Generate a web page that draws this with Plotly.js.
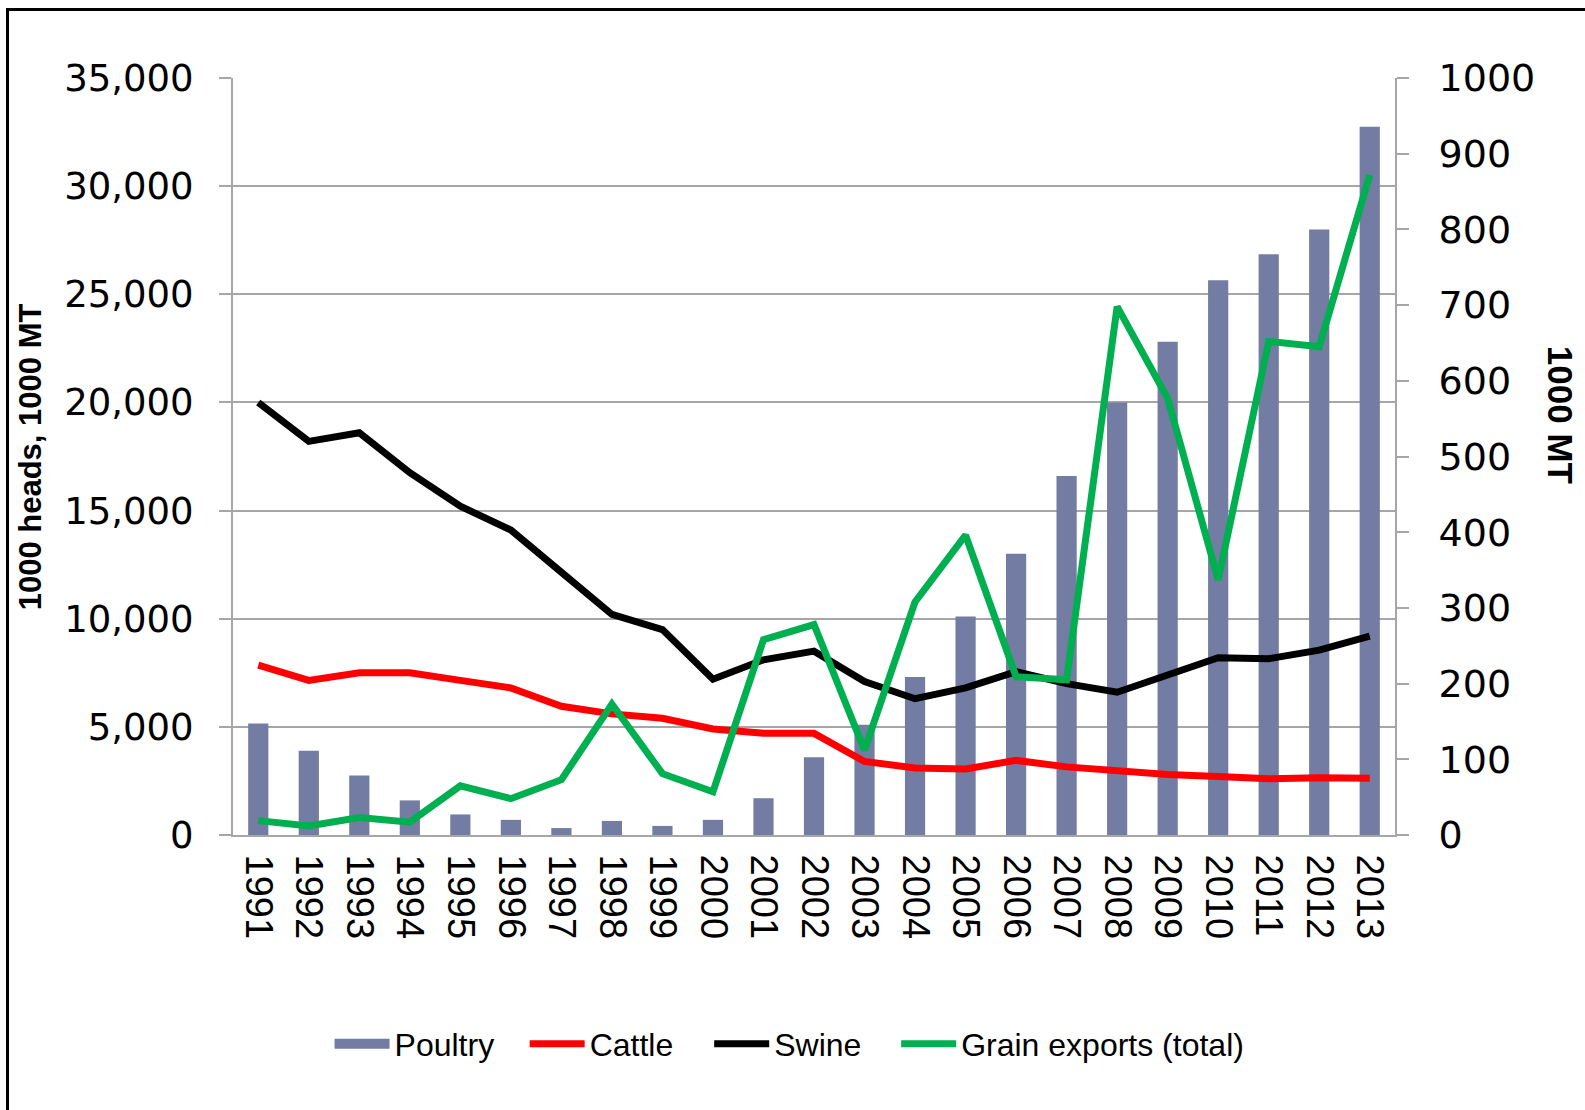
<!DOCTYPE html>
<html>
<head>
<meta charset="utf-8">
<script src="https://cdn.plot.ly/plotly-3.0.1.min.js"></script>
<style>
  html, body { margin: 0; padding: 0; background: #ffffff; }
  #wrap { position: relative; width: 1585px; height: 1110px; overflow: hidden; }
  #chart { position: absolute; left: 0; top: 0; width: 1585px; height: 1110px; }
  #frame { position: absolute; left: 6px; top: 8px; width: 1700px; height: 1200px;
           border-left: 3px solid #000; border-top: 3px solid #000; pointer-events: none; }
</style>
</head>
<body>
<div id="wrap">
  <div id="chart"></div>
  <div id="frame"></div>
</div>
<script>
const years = ["1991","1992","1993","1994","1995","1996","1997","1998","1999","2000","2001","2002",
               "2003","2004","2005","2006","2007","2008","2009","2010","2011","2012","2013"];
const poultry = [5150, 3900, 2750, 1600, 950, 700, 320, 650, 420, 700, 1700, 3600,
                 5100, 7300, 10100, 13000, 16600, 20000, 22800, 25650, 26850, 28000, 32750];
const cattle = [7850, 7150, 7500, 7500, 7150, 6800, 5950, 5600, 5400, 4900, 4700, 4700,
                3400, 3100, 3050, 3450, 3150, 2950, 2800, 2700, 2600, 2650, 2620];
const swine = [20000, 18200, 18600, 16750, 15200, 14100, 12150, 10200, 9500, 7200, 8100, 8500,
               7100, 6300, 6800, 7550, 7000, 6600, 7400, 8200, 8150, 8550, 9200];
const grainExports = [19, 12, 23, 17, 65, 48, 73, 173, 81, 57, 258, 278,
                      112, 308, 396, 209, 205, 698, 577, 337, 652, 645, 872];

const seriesNames = ["Poultry", "Cattle", "Swine", "Grain exports (total)"];
const leftTitle = "1000 heads, 1000 MT";
const rightTitle = "1000 MT";

const gridGrey = "#a6a6a6";
const barColor = "#737ca2";
const sans = "Arial, Liberation Sans, sans-serif";

const traces = [
  { type: "bar", name: seriesNames[0], x: years, y: poultry,
    marker: { color: barColor }, yaxis: "y", showlegend: false },
  // legend-only swatch for the bar series (wide block like the original)
  { type: "scatter", mode: "lines", name: seriesNames[0], x: [years[0]], y: [null],
    line: { color: barColor, width: 16 }, yaxis: "y", hoverinfo: "skip", legend: "legend" },
  { type: "scatter", mode: "lines", name: seriesNames[1], x: years, y: cattle,
    line: { color: "#ff0000", width: 7 }, yaxis: "y", legend: "legend2" },
  { type: "scatter", mode: "lines", name: seriesNames[2], x: years, y: swine,
    line: { color: "#000000", width: 7 }, yaxis: "y", legend: "legend3" },
  { type: "scatter", mode: "lines", name: seriesNames[3], x: years, y: grainExports,
    line: { color: "#00b050", width: 7 }, yaxis: "y2", legend: "legend4" }
];

function legendAt(x) {
  return {
    orientation: "h", x: x, xanchor: "left", y: -0.276, yanchor: "middle",
    font: { family: sans, size: 32, color: "#000" },
    itemwidth: 55, bgcolor: "rgba(0,0,0,0)", borderwidth: 0
  };
}

const layout = {
  width: 1585, height: 1110,
  margin: { l: 233, r: 190, t: 78, b: 275 },
  paper_bgcolor: "#ffffff", plot_bgcolor: "#ffffff",
  font: { family: sans, color: "#000000" },
  bargap: 0.6,
  showlegend: true,
  legend: legendAt(0.0831),
  legend2: legendAt(0.2510),
  legend3: legendAt(0.4098),
  legend4: legendAt(0.5707),
  xaxis: {
    type: "category",
    tickangle: 90,
    tickfont: { family: sans, size: 38, color: "#000" },
    showline: true, linecolor: gridGrey, linewidth: 2,
    ticks: "", showgrid: false, zeroline: false,
    ticklabelstandoff: 10
  },
  yaxis: {
    range: [0, 35000], dtick: 5000, tick0: 0,
    tickformat: ",d",
    tickfont: { family: "DejaVu Sans, Liberation Sans, sans-serif", size: 37, color: "#000" },
    showline: true, linecolor: gridGrey, linewidth: 2,
    ticks: "outside", ticklen: 12, tickcolor: gridGrey, tickwidth: 2,
    showgrid: true, gridcolor: gridGrey, gridwidth: 2,
    zeroline: false,
    ticklabelstandoff: 18
  },
  yaxis2: {
    overlaying: "y", side: "right",
    range: [0, 1000], dtick: 100, tick0: 0,
    tickfont: { family: "DejaVu Sans, Liberation Sans, sans-serif", size: 38, color: "#000" },
    showline: true, linecolor: gridGrey, linewidth: 2,
    ticks: "outside", ticklen: 12, tickcolor: gridGrey, tickwidth: 2,
    showgrid: false, zeroline: false,
    ticklabelstandoff: 22
  },
  annotations: [
    { text: "<b>" + leftTitle + "</b>", xref: "paper", yref: "paper",
      x: -0.174, y: 0.5, xanchor: "center", yanchor: "middle", textangle: -90,
      showarrow: false, font: { family: sans, size: 31, color: "#000" } },
    { text: "<b>" + rightTitle + "</b>", xref: "paper", yref: "paper",
      x: 1.142, y: 0.555, xanchor: "center", yanchor: "middle", textangle: 90,
      showarrow: false, font: { family: sans, size: 35, color: "#000" } }
  ]
};

Plotly.newPlot("chart", traces, layout, { displayModeBar: false, staticPlot: true });
</script>
</body>
</html>
